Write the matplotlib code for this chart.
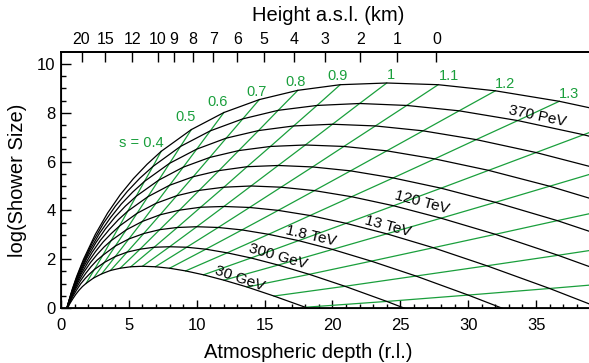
import numpy as np
import matplotlib.pyplot as plt

plt.rcParams['font.family'] = ['Liberation Sans', 'DejaVu Sans']

nan = np.nan

# shower age s belonging to each column of the two tables below
age = [0.02, 0.03, 0.05, 0.07, 0.1, 0.15, 0.2, 0.25, 0.3, 0.35,
       0.4, 0.5, 0.6, 0.7, 0.8, 0.9, 1.0, 1.1, 1.2, 1.3,
       1.4, 1.5, 1.6, 1.7, 1.8, 1.9]

# atmospheric depth (r.l.) of each profile, lowest energy first
depth = [
    [nan, nan, nan, nan, 0.41, 0.63, 0.86, 1.09, 1.33, 1.58, 1.85, 2.4, 3.0, 3.65, 4.36, 5.14, 6.0, 6.95, 8.0, 9.18, 10.5, 12.0, 13.71, 15.69, 18.0, 20.73],
    [nan, nan, nan, 0.38, 0.55, 0.84, 1.14, 1.45, 1.78, 2.11, 2.46, 3.2, 4.0, 4.87, 5.82, 6.86, 8.0, 9.26, 10.67, 12.24, 14.0, 16.0, 18.29, 20.92, 24.0, 27.64],
    [nan, nan, 0.34, 0.48, 0.69, 1.05, 1.43, 1.82, 2.22, 2.64, 3.08, 4.0, 5.0, 6.09, 7.27, 8.57, 10.0, 11.58, 13.33, 15.29, 17.5, 20.0, 22.86, 26.15, 30.0, 34.55],
    [nan, nan, 0.41, 0.57, 0.83, 1.26, 1.71, 2.18, 2.67, 3.17, 3.69, 4.8, 6.0, 7.3, 8.73, 10.29, 12.0, 13.89, 16.0, 18.35, 21.0, 24.0, 27.43, 31.38, 36.0, 41.45],
    [nan, 0.28, 0.47, 0.67, 0.97, 1.47, 2.0, 2.55, 3.11, 3.7, 4.31, 5.6, 7.0, 8.52, 10.18, 12.0, 14.0, 16.21, 18.67, 21.41, 24.5, 28.0, 32.0, 36.62, 42.0, nan],
    [nan, 0.32, 0.54, 0.76, 1.1, 1.68, 2.29, 2.91, 3.56, 4.23, 4.92, 6.4, 8.0, 9.74, 11.64, 13.71, 16.0, 18.53, 21.33, 24.47, 28.0, 32.0, 36.57, 41.85, nan, nan],
    [nan, 0.36, 0.61, 0.86, 1.24, 1.89, 2.57, 3.27, 4.0, 4.75, 5.54, 7.2, 9.0, 10.96, 13.09, 15.43, 18.0, 20.84, 24.0, 27.53, 31.5, 36.0, 41.14, nan, nan, nan],
    [nan, 0.4, 0.68, 0.96, 1.38, 2.11, 2.86, 3.64, 4.44, 5.28, 6.15, 8.0, 10.0, 12.17, 14.55, 17.14, 20.0, 23.16, 26.67, 30.59, 35.0, 40.0, nan, nan, nan, nan],
    [0.3, 0.44, 0.75, 1.05, 1.52, 2.32, 3.14, 4.0, 4.89, 5.81, 6.77, 8.8, 11.0, 13.39, 16.0, 18.86, 22.0, 25.47, 29.33, 33.65, 38.5, 44.0, nan, nan, nan, nan],
    [0.32, 0.49, 0.81, 1.15, 1.66, 2.53, 3.43, 4.36, 5.33, 6.34, 7.38, 9.6, 12.0, 14.61, 17.45, 20.57, 24.0, 27.79, 32.0, 36.71, 42.0, nan, nan, nan, nan, nan],
]

# log10 of the shower size at the same points
log_size = [
    [nan, nan, nan, nan, -0.10, 0.16, 0.37, 0.56, 0.73, 0.88, 1.01, 1.23, 1.40, 1.54, 1.63, 1.69, 1.71, 1.69, 1.63, 1.52, 1.36, 1.14, 0.86, 0.49, 0.03, -0.56],
    [nan, nan, nan, -0.13, 0.11, 0.45, 0.73, 0.99, 1.21, 1.40, 1.58, 1.87, 2.11, 2.29, 2.41, 2.49, 2.51, 2.49, 2.41, 2.26, 2.05, 1.76, 1.38, 0.89, 0.27, -0.51],
    [nan, nan, -0.20, 0.03, 0.33, 0.75, 1.11, 1.42, 1.70, 1.95, 2.16, 2.54, 2.83, 3.05, 3.21, 3.30, 3.33, 3.30, 3.20, 3.02, 2.76, 2.40, 1.92, 1.31, 0.53, -0.45],
    [nan, nan, -0.08, 0.19, 0.55, 1.06, 1.49, 1.87, 2.20, 2.50, 2.76, 3.20, 3.55, 3.82, 4.01, 4.13, 4.16, 4.12, 4.00, 3.79, 3.47, 3.04, 2.47, 1.73, 0.80, -0.38],
    [nan, -0.31, 0.05, 0.37, 0.79, 1.38, 1.88, 2.32, 2.71, 3.05, 3.36, 3.88, 4.29, 4.60, 4.82, 4.95, 5.00, 4.95, 4.81, 4.56, 4.19, 3.68, 3.02, 2.16, 1.08, nan],
    [nan, -0.23, 0.18, 0.55, 1.02, 1.70, 2.28, 2.78, 3.22, 3.62, 3.97, 4.56, 5.03, 5.38, 5.63, 5.79, 5.84, 5.78, 5.62, 5.33, 4.91, 4.33, 3.58, 2.60, nan, nan],
    [nan, -0.15, 0.32, 0.73, 1.27, 2.03, 2.68, 3.24, 3.74, 4.18, 4.58, 5.24, 5.77, 6.17, 6.45, 6.62, 6.68, 6.62, 6.44, 6.11, 5.64, 4.99, 4.13, nan, nan, nan],
    [nan, -0.06, 0.46, 0.91, 1.51, 2.36, 3.08, 3.70, 4.26, 4.75, 5.19, 5.93, 6.51, 6.96, 7.27, 7.46, 7.53, 7.46, 7.26, 6.90, 6.37, 5.65, nan, nan, nan, nan],
    [-0.30, 0.03, 0.60, 1.10, 1.76, 2.69, 3.48, 4.17, 4.78, 5.32, 5.80, 6.62, 7.26, 7.75, 8.10, 8.30, 8.38, 8.30, 8.08, 7.68, 7.10, 6.31, nan, nan, nan, nan],
    [-0.24, 0.12, 0.74, 1.29, 2.00, 3.02, 3.89, 4.64, 5.30, 5.89, 6.42, 7.31, 8.01, 8.54, 8.92, 9.15, 9.22, 9.15, 8.90, 8.47, 7.84, nan, nan, nan, nan, nan],
]

# ages drawn as green lines, and the ones that get a label
age_lines = [0.4, 0.5, 0.6, 0.7, 0.8, 0.9, 1.0, 1.1, 1.2, 1.3, 1.4, 1.5, 1.6, 1.7, 1.8]
age_labels = ['s = 0.4', '0.5', '0.6', '0.7', '0.8', '0.9', '1', '1.1', '1.2', '1.3']

# energy labels and the profile each one belongs to
energy_labels = ['30 GeV', '300 GeV', '1.8 TeV', '13 TeV', '120 TeV', '370 PeV']
energy_curve = [0, 1, 2, 3, 4, 8]

# top axis: height above sea level
height_km = ['20', '15', '12', '10', '9', '8', '7', '6', '5', '4', '3', '2', '1', '0']
height_depth = [1.51, 3.25, 5.24, 7.15, 8.31, 9.72, 11.21, 12.98, 14.95, 17.15, 19.45, 22.05, 24.75, 27.66]

green = '#1a9f3c'

fig = plt.figure(figsize=(5.89, 3.63), dpi=100)
ax = fig.add_axes([0.1036, 0.1515, 0.8964, 0.7039])

# shower profiles
for d, n in zip(depth, log_size):
    ax.plot(d, n, color='black', lw=0.9, zorder=3)

# lines of constant age
depth_arr = np.array(depth)
size_arr = np.array(log_size)
for s in age_lines:
    j = age.index(s)
    ax.plot(depth_arr[:, j], size_arr[:, j], color=green, lw=0.9, zorder=2)

# age labels (placed by hand above the top profile)
age_label_pos = [(5.92, 6.78), (9.16, 7.82), (11.52, 8.46), (14.42, 8.87), (17.26, 9.28),
                 (20.38, 9.49), (24.28, 9.53), (28.55, 9.49), (32.71, 9.18), (37.42, 8.77)]
for lab, (x, y) in zip(age_labels, age_label_pos):
    ax.text(x, y, lab, color=green, fontsize=10.5, ha='center', va='center')

# energy labels
energy_label_pos = [(13.17, 1.19, -19), (15.97, 2.11, -16), (18.43, 2.94, -13),
                    (24.06, 3.37, -15), (26.56, 4.31, -15), (35.1, 7.88, -12)]
for lab, (x, y, rot) in zip(energy_labels, energy_label_pos):
    ax.text(x, y, lab, fontsize=11, ha='center', va='center',
            rotation=rot, rotation_mode='anchor')

ax.set_xlim(0, 38.9)
ax.set_ylim(0, 10.47)
ax.set_xticks([0, 5, 10, 15, 20, 25, 30, 35])
ax.set_xticks(np.arange(0, 39, 1), minor=True)
ax.set_yticks([0, 2, 4, 6, 8, 10])
ax.set_yticks(np.arange(0, 10.5, 0.5), minor=True)
ax.tick_params(which='both', direction='in', labelsize=12, width=1, top=False, right=False)
ax.tick_params(axis='x', which='major', length=6, pad=7)
ax.tick_params(axis='x', which='minor', length=3)
ax.tick_params(axis='y', which='major', length=7, pad=4)
ax.tick_params(axis='y', which='minor', length=3.6)
ax.spines['right'].set_visible(False)
for sp in ['left', 'bottom', 'top']:
    ax.spines[sp].set_linewidth(1.3)

ax.set_xlabel('Atmospheric depth (r.l.)', fontsize=14.5)
ax.xaxis.set_label_coords(0.468, -0.135)
ax.set_ylabel('log(Shower Size)', fontsize=14.5)
ax.yaxis.set_label_coords(-0.064, 0.5)

# height scale on top
ax2 = ax.twiny()
ax2.set_xlim(ax.get_xlim())
ax2.set_xticks(height_depth)
ax2.set_xticklabels(height_km)
ax2.tick_params(direction='in', length=7, width=1, labelsize=11.5, pad=4)
ax2.spines['right'].set_visible(False)
ax2.spines['top'].set_linewidth(1.3)
ax2.set_xlabel('Height a.s.l. (km)', fontsize=14.5)
ax2.xaxis.set_label_coords(0.506, 1.122)

plt.savefig('out.png', dpi=100)
